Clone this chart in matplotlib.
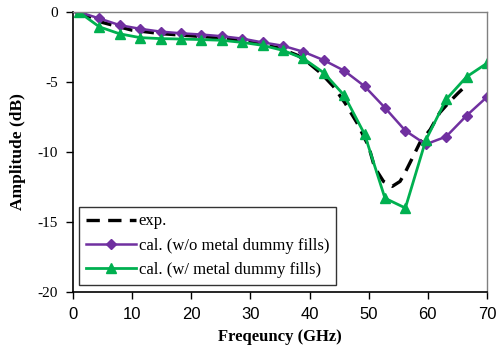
import numpy as np
import matplotlib
matplotlib.use('Agg')
import matplotlib.pyplot as plt

plt.rcParams['axes.unicode_minus'] = False

# frequency points of the calculated curves (GHz)
freq_cal = [1.0, 4.45, 7.9, 11.35, 14.8, 18.25, 21.7, 25.15, 28.6, 32.05, 35.5,
            38.95, 42.4, 45.85, 49.3, 52.75, 56.2, 59.65, 63.1, 66.55, 70.0]
wo_fills = [0.0, -0.46, -0.94, -1.2, -1.4, -1.52, -1.61, -1.73, -1.9, -2.17, -2.41,
            -2.84, -3.44, -4.19, -5.3, -6.84, -8.48, -9.45, -8.9, -7.4, -6.07]
w_fills = [0.0, -1.06, -1.56, -1.83, -1.9, -1.93, -1.97, -2.02, -2.17, -2.38, -2.74,
           -3.32, -4.34, -5.95, -8.72, -13.3, -14.0, -9.16, -6.24, -4.63, -3.66]

# measured curve
freq_exp = [1, 5, 10, 15, 20, 25, 30, 35, 38, 40, 42, 44, 46, 48, 50, 51, 52.5, 54,
            55.3, 56, 57.3, 58.7, 60.4, 62, 63.7, 65.1, 66.6]
exp = [0, -0.75, -1.3, -1.55, -1.7, -1.85, -2.1, -2.6, -3.1, -3.7, -4.4, -5.3, -6.5,
       -7.9, -9.6, -11.1, -12.1, -12.45, -12.1, -11.6, -10.5, -9.3, -8.4, -7.2, -6.4,
       -5.8, -5.2]

serif = 'Liberation Serif'
sans = 'Liberation Sans'

fig = plt.figure(figsize=(5.01, 3.49), dpi=100)
ax = fig.add_axes([0.1457, 0.1633, 0.8263, 0.8023])

ax.plot(freq_exp, exp, color='black', lw=2.4, dashes=(4, 2.5), label='exp.')
ax.plot(freq_cal, wo_fills, color='#7030A0', lw=1.8, marker='D', ms=5,
        label='cal. (w/o metal dummy fills)')
ax.plot(freq_cal, w_fills, color='#00B050', lw=2.0, marker='^', ms=7,
        label='cal. (w/ metal dummy fills)')

ax.set_xlim(0, 70)
ax.set_ylim(-20, 0)
ax.set_xticks(range(0, 71, 10))
ax.set_yticks(range(-20, 1, 5))
ax.tick_params(direction='out', length=5, width=1, color='black')
ax.tick_params(axis='x', pad=6)
ax.tick_params(axis='y', pad=6)
for lab in ax.get_xticklabels():
    lab.set_fontfamily(sans)
    lab.set_fontsize(12)
for lab in ax.get_yticklabels():
    lab.set_fontfamily(serif)
    lab.set_fontsize(11)

ax.set_xlabel('Freqeuncy (GHz)', fontfamily=serif, fontweight='bold', fontsize=12, labelpad=5)
ax.set_ylabel('Amplitude (dB)', fontfamily=serif, fontweight='bold', fontsize=12.5, labelpad=8)

for s in ['left', 'bottom']:
    ax.spines[s].set_color('black')
    ax.spines[s].set_linewidth(1.2)
for s in ['top', 'right']:
    ax.spines[s].set_color('#808080')
    ax.spines[s].set_linewidth(1.0)

leg = ax.legend(loc='lower left', bbox_to_anchor=(-0.006, -0.004), prop={'family': serif, 'size': 12},
                frameon=True, fancybox=False, edgecolor='black', handlelength=3.0,
                handletextpad=0.2, labelspacing=0.5, borderpad=0.4)
leg.get_frame().set_linewidth(1.0)

fig.savefig('out.png', dpi=100)
